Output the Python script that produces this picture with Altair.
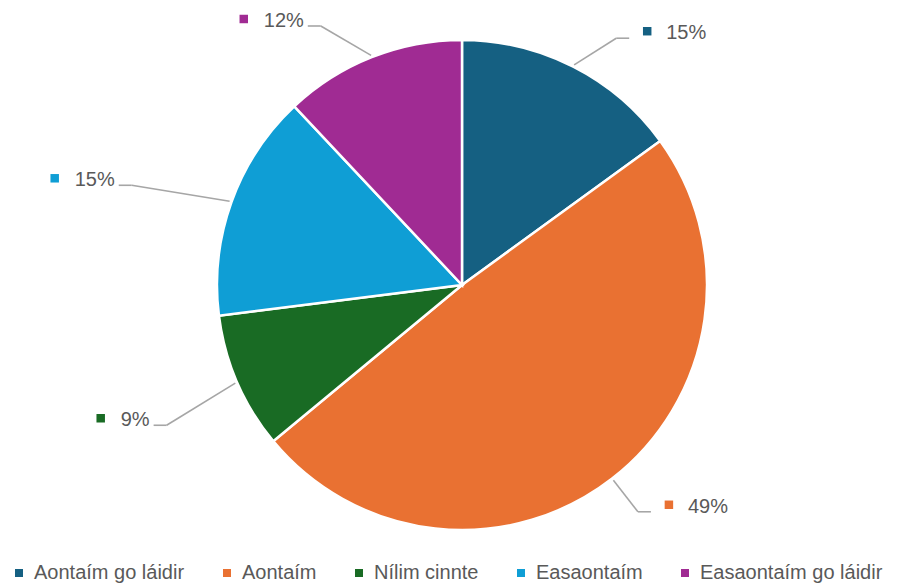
import altair as alt
import pandas as pd

# ---- data ----
categories = ["Aontaím go láidir", "Aontaím", "Nílim cinnte", "Easaontaím", "Easaontaím go láidir"]
values = [15, 49, 9, 15, 12]
colors = ["#156082", "#E97132", "#196B24", "#0F9ED5", "#A02B93"]

# ---- layout tweaks for the data-label leader lines ----
label_radius = [291, 287, 327, 345, 295]   # distance of elbow from centre (px)
label_shift = [5, 0, -2, -3, -7]           # angular shift of elbow (deg)

W, H = 890, 577
CX, CY, R = 454, 277, 245
FS = 20
LFS = 20
FONT = "Liberation Sans"
TXT = "#595959"

df = pd.DataFrame({
    "cat": categories,
    "val": values,
    "ord": list(range(len(categories))),
    "lr": label_radius,
    "ld": label_shift,
})

xs = alt.Scale(domain=[-CX, W - CX], range=[0, W], nice=False, zero=False)
ys = alt.Scale(domain=[-CY, H - CY], range=[0, H], nice=False, zero=False)

color = alt.Color(
    "cat:N",
    scale=alt.Scale(domain=categories, range=colors),
    legend=alt.Legend(
        title=None, orient="none", legendX=1, legendY=555,
        direction="horizontal", symbolType="square", symbolSize=64,
        symbolStrokeWidth=0, labelFontSize=LFS, labelFont=FONT,
        labelColor=TXT, columnPadding=32, labelOffset=5, padding=0,
        labelLimit=0,
    ),
)

base = alt.Chart(df).transform_window(
    cum="sum(val)", sort=[alt.SortField("ord")], frame=[None, 0]
).transform_joinaggregate(
    tot="sum(val)"
).transform_calculate(
    mid="(datum.cum - datum.val/2)/datum.tot*2*PI",
).transform_calculate(
    a2="datum.mid + datum.ld*PI/180",
    side="sin(datum.mid) >= 0 ? 1 : -1",
    label="format(datum.val/datum.tot, '.0%')",
).transform_calculate(
    sx=f"{R + 2}*sin(datum.mid)",
    sy=f"-{R + 2}*cos(datum.mid)",
    ex="datum.lr*sin(datum.a2)",
    ey="-datum.lr*cos(datum.a2)",
).transform_calculate(
    hx="datum.ex + 13*datum.side",
    ty="datum.ey + 1",
    my="datum.ey - 7",
    tw=f"(length(datum.label)-1)*0.556*{FS} + 0.889*{FS}",
).transform_calculate(
    mx="datum.side > 0 ? datum.hx + 18 : datum.hx - 4 - datum.tw - 20",
    tx="datum.side > 0 ? datum.hx + 37 : datum.hx - 4",
)

pie = alt.Chart(df).mark_arc(outerRadius=R, stroke="white", strokeWidth=2.5).encode(
    theta=alt.Theta("val:Q", stack=True),
    order=alt.Order("ord:Q"),
    color=color,
    x=alt.value(CX),
    y=alt.value(CY),
)

seg1 = base.mark_rule(color="#A6A6A6", strokeWidth=1.6).encode(
    x=alt.X("sx:Q", scale=xs, axis=None),
    y=alt.Y("sy:Q", scale=ys, axis=None),
    x2="ex:Q",
    y2="ey:Q",
)
seg2 = base.mark_rule(color="#A6A6A6", strokeWidth=1.6).encode(
    x=alt.X("ex:Q", scale=xs, axis=None),
    y=alt.Y("ey:Q", scale=ys, axis=None),
    x2="hx:Q",
)

markers = base.mark_square(size=72, opacity=1).encode(
    x=alt.X("mx:Q", scale=xs, axis=None),
    y=alt.Y("my:Q", scale=ys, axis=None),
    color=color,
)

text_r = base.transform_filter("datum.side > 0").mark_text(
    align="left", baseline="alphabetic", fontSize=FS, font=FONT, color=TXT
).encode(
    x=alt.X("tx:Q", scale=xs, axis=None),
    y=alt.Y("ty:Q", scale=ys, axis=None),
    text="label:N",
)
text_l = base.transform_filter("datum.side < 0").mark_text(
    align="right", baseline="alphabetic", fontSize=FS, font=FONT, color=TXT
).encode(
    x=alt.X("tx:Q", scale=xs, axis=None),
    y=alt.Y("ty:Q", scale=ys, axis=None),
    text="label:N",
)

chart = alt.layer(pie, seg1, seg2, markers, text_r, text_l).properties(
    width=W, height=H, autosize=alt.AutoSizeParams(type="none"), padding=0
).configure_view(stroke=None)

chart.save("out.html", embed_options={"renderer": "svg", "actions": False})
